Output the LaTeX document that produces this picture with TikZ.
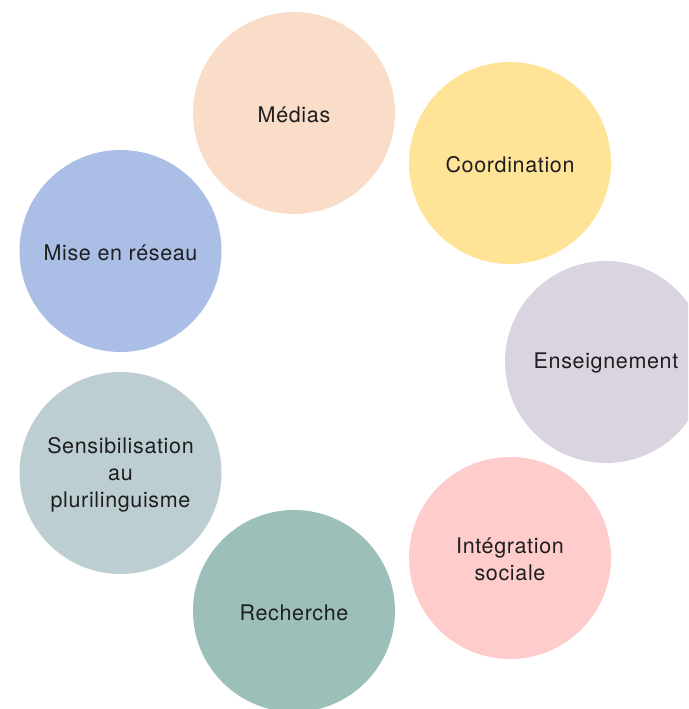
\documentclass[tikz,border=0pt]{standalone}
\usepackage{fontspec}
\setmainfont[LetterSpace=3]{TeX Gyre Heros}
\definecolor{cmedias}{HTML}{FADDC8}
\definecolor{ccoord}{HTML}{FFE498}
\definecolor{censeig}{HTML}{DAD3E0}
\definecolor{cinteg}{HTML}{FFCCCC}
\definecolor{crech}{HTML}{9DBFBA}
\definecolor{csens}{HTML}{BDCED2}
\definecolor{cmise}{HTML}{ABBFE6}
\definecolor{ctext}{HTML}{1E1E1E}
\begin{document}
\begin{tikzpicture}[x=1pt,y=1pt,
  bubble/.style={circle,minimum size=202pt,inner sep=0pt},
  lbl/.style={inner sep=0pt,text=ctext,align=center,yshift=-1.5pt,
    font=\fontsize{21.5}{27}\selectfont}]
\useasboundingbox (0,0) rectangle (688,709);
\clip (0,0) rectangle (688,709);
\node[bubble,fill=cmedias] (medias) at (294,596) {};
\node[bubble,fill=ccoord] (coord) at (510,546) {};
\node[bubble,fill=censeig] (enseig) at (606,347) {};
\node[bubble,fill=cinteg] (integ) at (510,151) {};
\node[bubble,fill=crech] (rech) at (294,98) {};
\node[bubble,fill=csens] (sens) at (120.5,236) {};
\node[bubble,fill=cmise] (mise) at (120.5,458) {};
\node[lbl] (medias-t) at (medias) {Médias};
\node[lbl] (coord-t) at (coord) {Coordination};
\node[lbl] (enseig-t) at (enseig) {Enseignement};
\node[lbl] (integ-t) at (integ) {Intégration\\sociale};
\node[lbl] (rech-t) at (rech) {Recherche};
\node[lbl] (sens-t) at (sens) {Sensibilisation\\au\\plurilinguisme};
\node[lbl] (mise-t) at (mise) {Mise en réseau};
\end{tikzpicture}
\end{document}
